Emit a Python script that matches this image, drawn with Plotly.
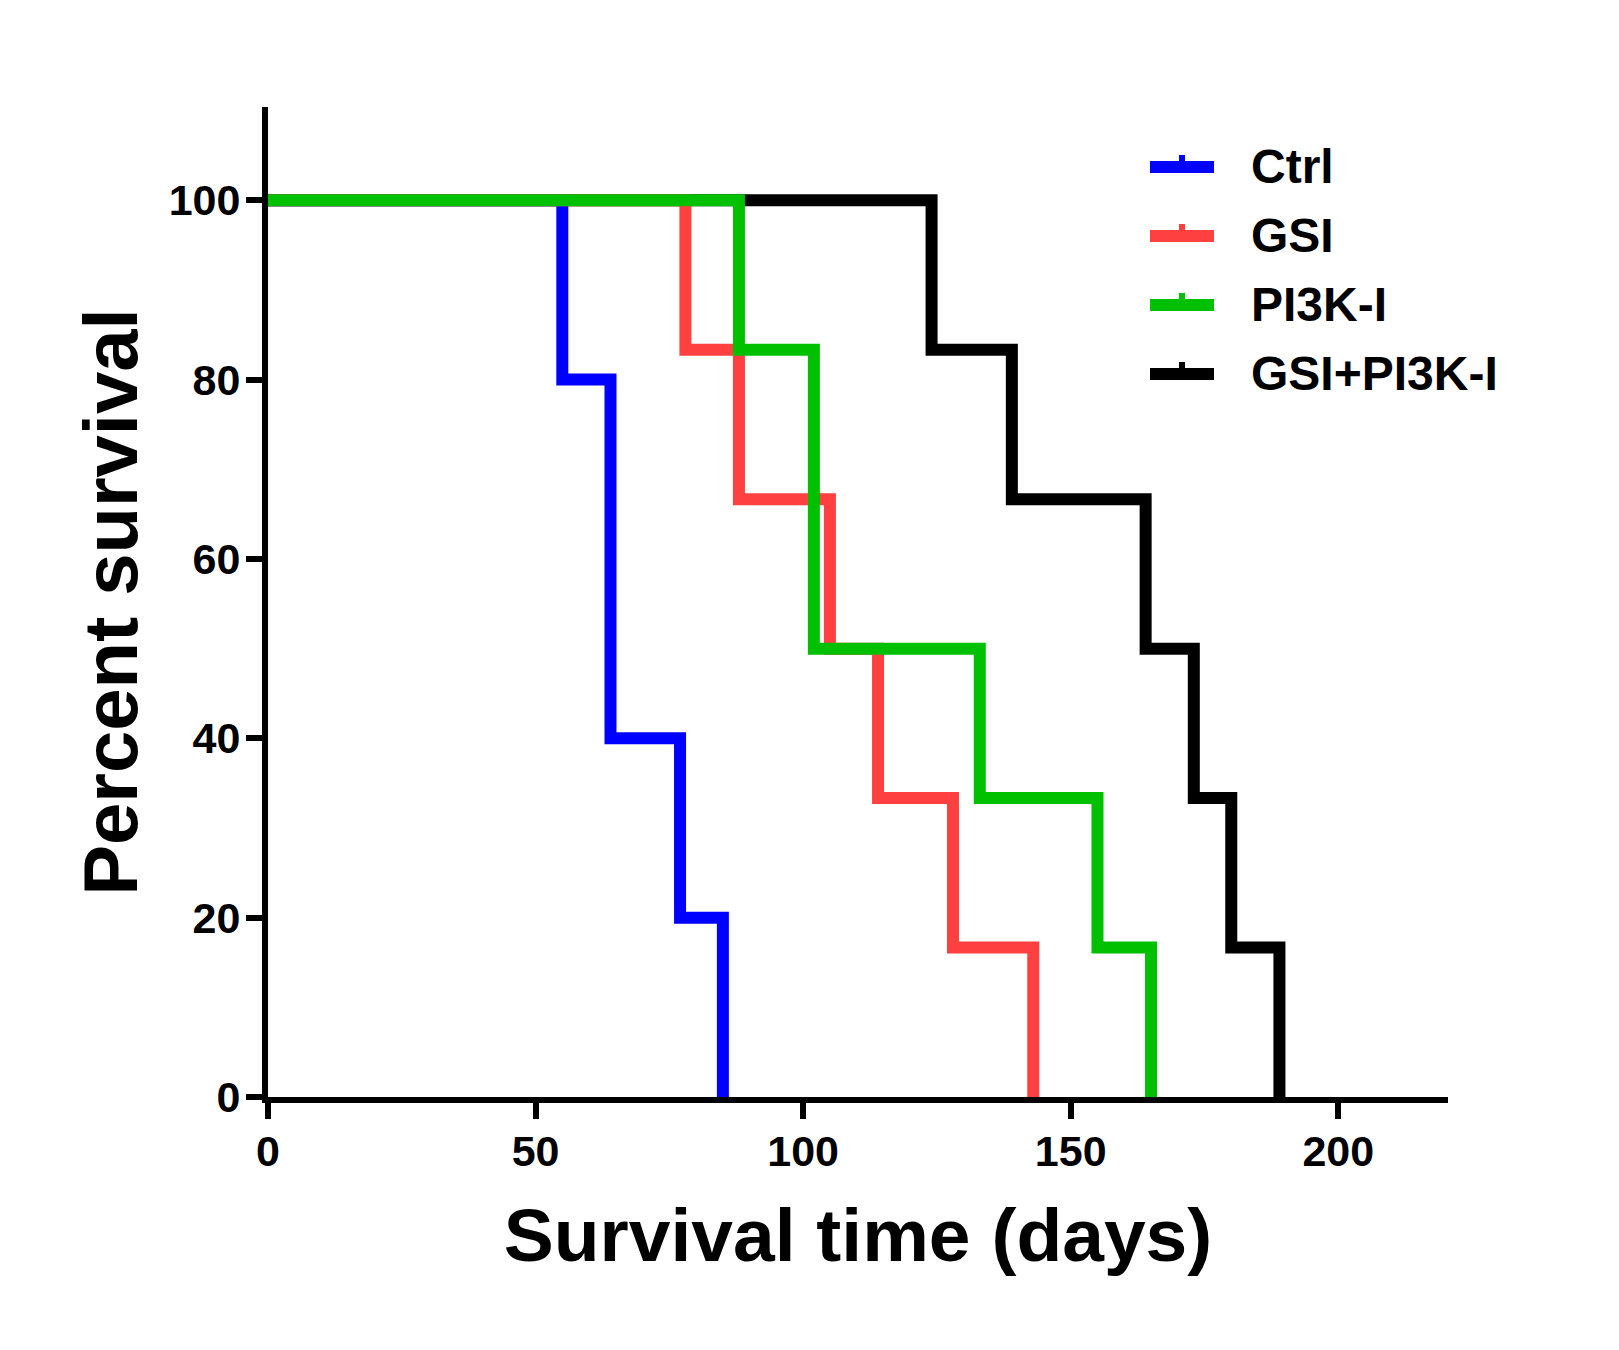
import plotly.graph_objects as go

# Kaplan-Meier data: event times (days) and percent survival after each event
groups = ['Ctrl', 'GSI', 'PI3K-I', 'GSI+PI3K-I']
colors = ['#0000FF', '#FF4040', '#00C000', '#000000']

ctrlTimes = [55, 64, 77, 85]
ctrlSurv = [80, 40, 20, 0]

gsiTimes = [78, 88, 105, 114, 128, 143]
gsiSurv = [83.33, 66.67, 50, 33.33, 16.67, 0]

pi3kTimes = [88, 102, 133, 155, 165]
pi3kSurv = [83.33, 50, 33.33, 16.67, 0]

comboTimes = [124, 139, 164, 173, 180, 189]
comboSurv = [83.33, 66.67, 50, 33.33, 16.67, 0]

xTicks = [0, 50, 100, 150, 200]
yTicks = [0, 20, 40, 60, 80, 100]

FONT = 'Liberation Sans, Arial, sans-serif'
# page body has an 8px margin, so the figure is drawn 8px smaller
PAGE_OFF = 8
W, H = 1619 - PAGE_OFF, 1350 - PAGE_OFF
L, T = 260, 99
PLOT_W, PLOT_H = 1180, 990
R = W - L - PLOT_W
B = H - T - PLOT_H

series = {
  'Ctrl': (ctrlTimes, ctrlSurv),
  'GSI': (gsiTimes, gsiSurv),
  'PI3K-I': (pi3kTimes, pi3kSurv),
  'GSI+PI3K-I': (comboTimes, comboSurv),
}

fig = go.Figure()

# draw black first so green ends up on top like the original
drawOrder = ['GSI+PI3K-I', 'Ctrl', 'GSI', 'PI3K-I']
for name in drawOrder:
  times, surv = series[name]
  fig.add_trace(
    go.Scatter(
      x=[0] + times,
      y=[100] + surv,
      mode='lines',
      name=name,
      line=dict(
        color=colors[groups.index(name)],
        width=12,
        shape='hv'
      ),
      showlegend=False
    )
  )

# Hand-made legend (line sample with small tick, like Prism)
# positions given in screen pixels, converted to paper coords
def px2x(px):
  return (px - PAGE_OFF - L) / PLOT_W

def px2y(py):
  return (T + PLOT_H - (py - PAGE_OFF)) / PLOT_H

legendRows = [167, 236, 305, 374]
for name, rowY in zip(groups, legendRows):
  c = colors[groups.index(name)]
  fig.add_shape(
    type='line', xref='paper', yref='paper',
    x0=px2x(1150), x1=px2x(1214), y0=px2y(rowY), y1=px2y(rowY),
    line=dict(color=c, width=12)
  )
  fig.add_shape(
    type='rect', xref='paper', yref='paper',
    xsizemode='pixel', ysizemode='pixel',
    xanchor=px2x(1182), yanchor=px2y(rowY),
    x0=-3, x1=3, y0=0, y1=12,
    line=dict(width=0), fillcolor=c
  )
  fig.add_annotation(
    x=px2x(1249), y=px2y(rowY), xref='paper', yref='paper',
    xanchor='left', yanchor='middle',
    text=name, showarrow=False,
    font=dict(family=FONT, size=48, color='black', weight='bold')
  )

axisCommon = dict(
  showgrid=False,
  zeroline=False,
  showline=True,
  linecolor='black',
  linewidth=6,
  ticks='outside',
  ticklen=16,
  tickwidth=6,
  tickcolor='black',
  tickfont=dict(family=FONT, size=43, color='black', weight='bold'),
  automargin=False,
  tickmode='array'
)

fig.update_layout(
  width=W,
  height=H,
  plot_bgcolor='white',
  paper_bgcolor='white',
  margin=dict(l=L, r=R, t=T, b=B, autoexpand=False),
  xaxis=dict(
    axisCommon,
    range=[0, 220.5],
    tickvals=xTicks,
    ticktext=[str(v) for v in xTicks],
    ticklabelstandoff=-5,
    title=dict(
      text='Survival time (days)',
      font=dict(family=FONT, size=75, color='black', weight='bold'),
      standoff=37
    )
  ),
  yaxis=dict(
    axisCommon,
    range=[0, 110.4],
    tickvals=yTicks,
    ticktext=[str(v) for v in yTicks],
    ticklabelstandoff=-3,
    title=dict(
      text='Percent survival',
      font=dict(family=FONT, size=76, color='black', weight='bold'),
      standoff=8
    )
  )
)

fig.write_html('out.html', config=dict(displayModeBar=False))
